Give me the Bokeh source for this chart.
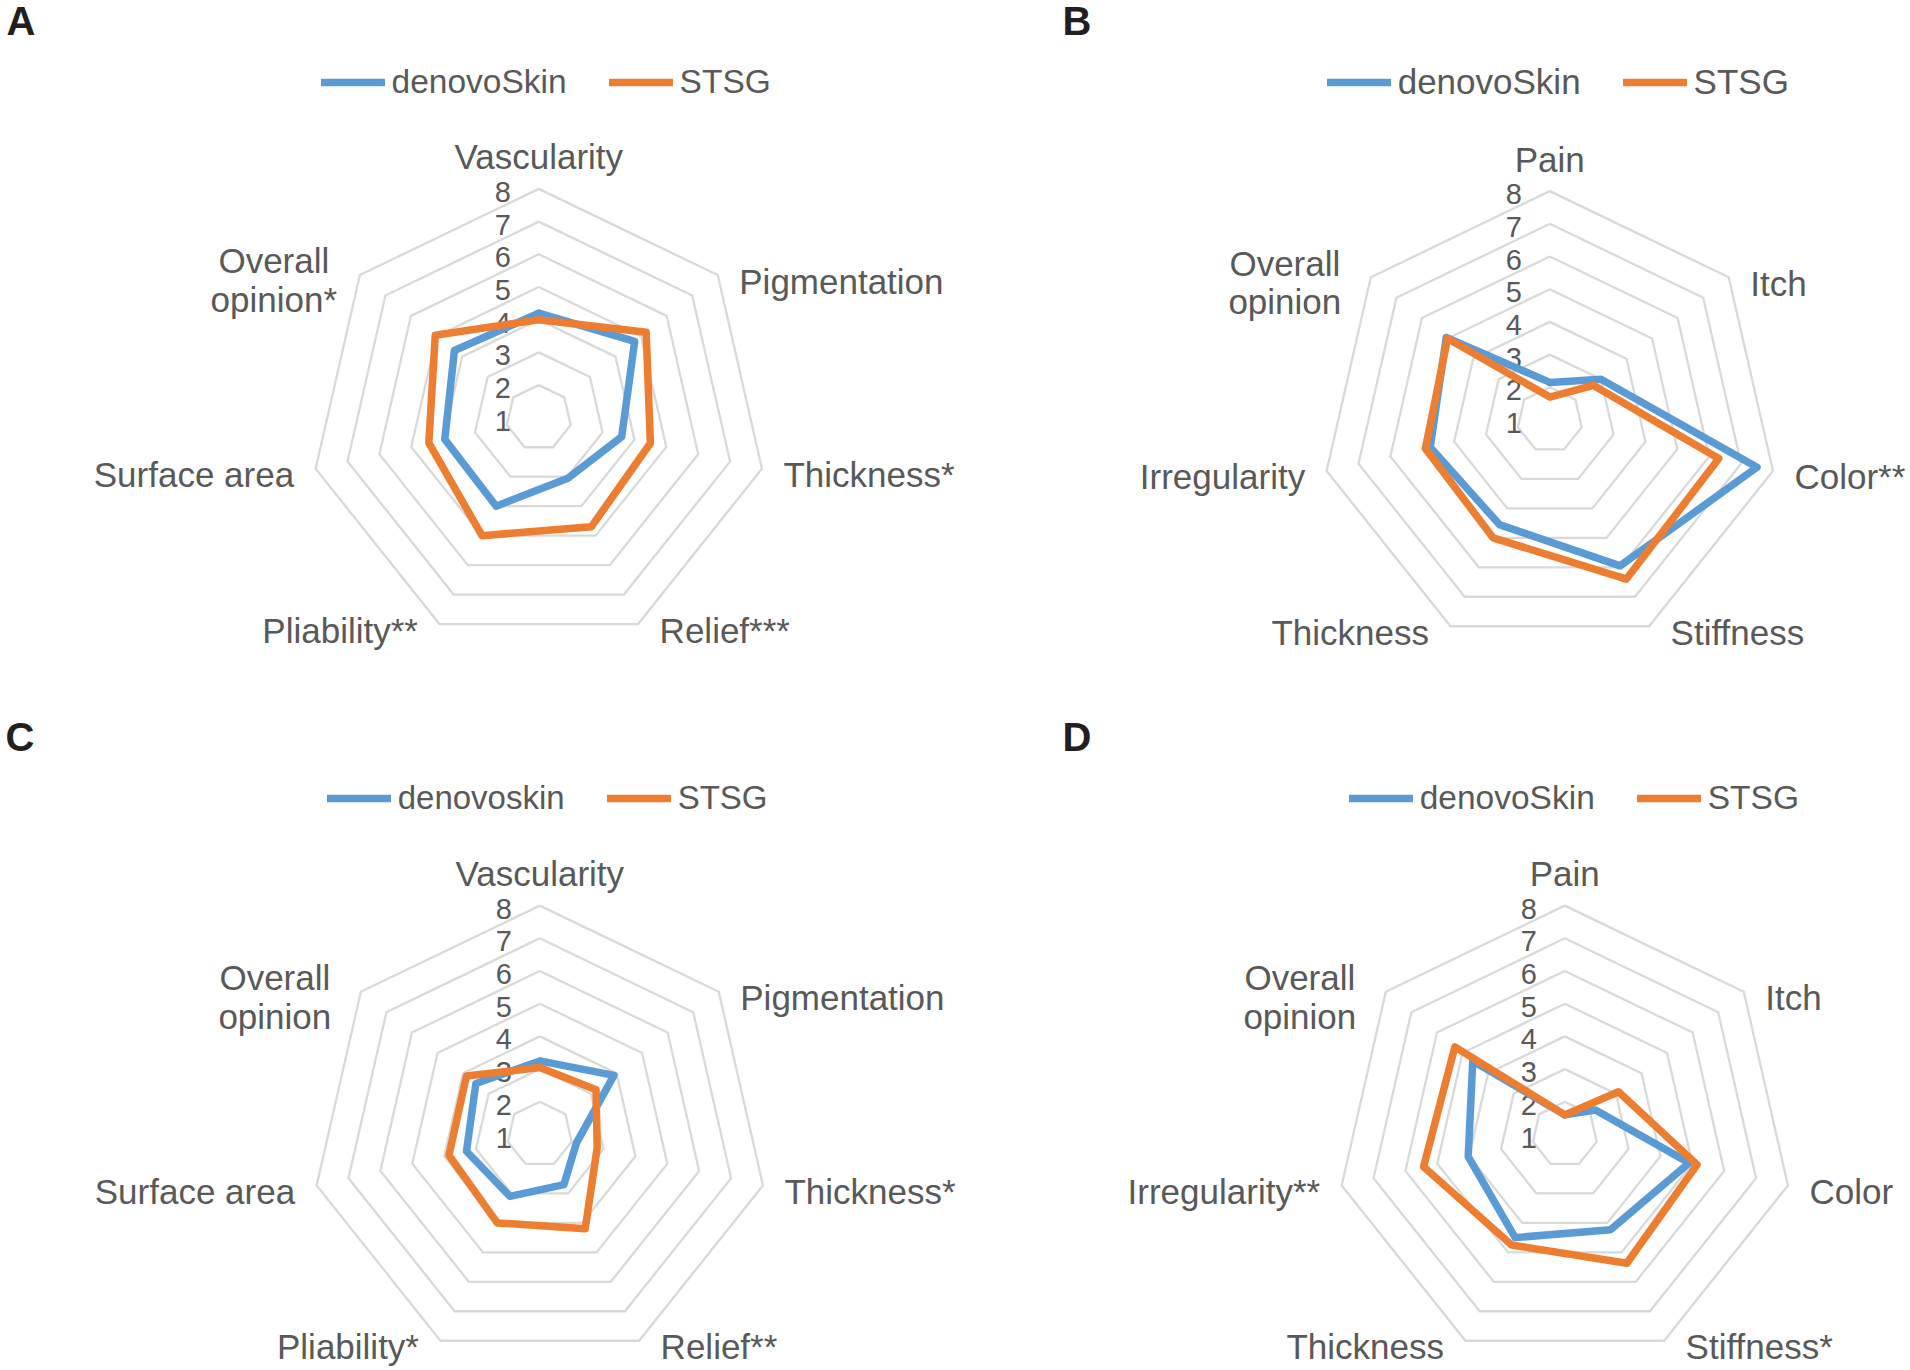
import math
from bokeh.plotting import figure
from bokeh.models import Range1d, Legend, LegendItem
from bokeh.embed import file_html
from bokeh.resources import INLINE
from bokeh.core.properties import value

# ---------------- data ----------------
AXIS_MIN, AXIS_MAX = 1, 8
TICKS = [1, 2, 3, 4, 5, 6, 7, 8]

cats_A = ["Vascularity", "Pigmentation", "Thickness*", "Relief***", "Pliability**", "Surface area", "Overall\nopinion*"]
denovo_A = [4.2, 4.75, 3.6, 3.05, 4.0, 3.95, 4.3]
stsg_A = [4.0, 5.2, 4.5, 4.7, 5.0, 4.45, 5.05]
names_A = ["denovoSkin", "STSG"]

cats_B = ["Pain", "Itch", "Color**", "Stiffness", "Thickness", "Irregularity", "Overall\nopinion"]
denovo_B = [2.15, 3.0, 7.5, 5.95, 4.55, 4.75, 5.05]
stsg_B = [1.7, 2.7, 6.3, 6.4, 5.0, 4.9, 5.0]
names_B = ["denovoSkin", "STSG"]

cats_C = ["Vascularity", "Pigmentation", "Thickness*", "Relief**", "Pliability*", "Surface area", "Overall\nopinion"]
denovo_C = [3.25, 3.9, 2.15, 2.7, 3.1, 3.3, 3.5]
stsg_C = [3.05, 3.2, 2.8, 4.2, 4.0, 3.85, 3.87]
names_C = ["denovoskin", "STSG"]

cats_D = ["Pain", "Itch", "Color", "Stiffness*", "Thickness", "Irregularity**", "Overall\nopinion"]
denovo_D = [1.6, 2.2, 4.9, 4.23, 4.5, 4.03, 4.6]
stsg_D = [1.6, 3.1, 5.15, 5.37, 4.75, 5.43, 5.3]
names_D = ["denovoSkin", "STSG"]

# ---------------- style ----------------
BLUE = "#5B9BD5"
ORANGE = "#ED7D31"
GRID = "#D9D9D9"
TXT = "#595959"
FONT = "Liberation Sans"
W, H = 1908, 1368
UNIT = 32.7  # px per score unit

p = figure(width=W, height=H, output_backend="svg", toolbar_location=None,
           x_range=Range1d(0, W), y_range=Range1d(H, 0),
           x_axis_location=None, y_axis_location=None, min_border=0,
           outline_line_color=None, background_fill_color="white",
           border_fill_color="white")
p.grid.visible = False


def radar(letter, letter_pos, center, cats, s1, s2, names, legend_pos, legend_font):
    cx, cy = center
    n = len(cats)
    ang = [2 * math.pi * i / n for i in range(n)]

    def poly(vals):
        xs = [cx + (v - AXIS_MIN) * UNIT * math.sin(a) for v, a in zip(vals, ang)]
        ys = [cy - (v - AXIS_MIN) * UNIT * math.cos(a) for v, a in zip(vals, ang)]
        return xs + [xs[0]], ys + [ys[0]]

    # concentric heptagon grid
    rx, ry = [], []
    for t in TICKS:
        if t == AXIS_MIN:
            continue
        xs, ys = poly([t] * n)
        rx.append(xs)
        ry.append(ys)
    p.multi_line(rx, ry, line_color=GRID, line_width=2.3, line_join="miter")

    # value-axis tick labels
    p.text(x=[cx] * len(TICKS), y=[cy - (t - AXIS_MIN) * UNIT for t in TICKS],
           text=[str(t) for t in TICKS], x_offset=-28, y_offset=3,
           text_align="right", text_baseline="middle",
           text_font=value(FONT), text_font_size="29px", text_color=TXT)

    # category labels
    R = (AXIS_MAX - AXIS_MIN) * UNIT
    for lab, a in zip(cats, ang):
        vx, vy = cx + R * math.sin(a), cy - R * math.cos(a)
        s = math.sin(a)
        kw = dict(text_font=value(FONT), text_font_size="35px", text_color=TXT,
                  text_baseline="middle")
        if "\n" in lab:
            lines = lab.split("\n")
            sign = 1 if s > 0 else -1
            for j, ln in enumerate(lines):
                p.text(x=[vx], y=[vy], text=[ln], x_offset=sign * 86,
                       y_offset=5 + (j - (len(lines) - 1) / 2) * 38.5,
                       text_align="center", **kw)
        elif abs(s) < 0.01:
            p.text(x=[vx], y=[vy], text=[lab], y_offset=-32, text_align="center", **kw)
        elif s > 0:
            p.text(x=[vx], y=[vy], text=[lab], x_offset=21.5, y_offset=6, text_align="left", **kw)
        else:
            p.text(x=[vx], y=[vy], text=[lab], x_offset=-21.5, y_offset=6, text_align="right", **kw)

    # series
    x1, y1 = poly(s1)
    r1 = p.line(x1, y1, line_color=BLUE, line_width=7.5, line_join="round", line_cap="round")
    x2, y2 = poly(s2)
    r2 = p.line(x2, y2, line_color=ORANGE, line_width=7.5, line_join="round", line_cap="round")

    # legend (top-centre of panel)
    lx, ly = legend_pos
    legend = Legend(items=[LegendItem(label=names[0], renderers=[r1]),
                           LegendItem(label=names[1], renderers=[r2])],
                    orientation="horizontal", location=(lx, H - (ly + 20)),
                    glyph_width=64, glyph_height=40, label_height=40, label_standoff=7,
                    spacing=42, padding=0, margin=0, border_line_color=None,
                    background_fill_alpha=0, label_text_font=FONT,
                    label_text_font_size=legend_font, label_text_color=TXT)
    p.add_layout(legend)

    # panel letter
    lpx, lpy = letter_pos
    p.text(x=[lpx], y=[lpy], text=[letter], text_align="left", text_baseline="middle",
           text_font=value(FONT), text_font_style="bold", text_font_size="40px",
           text_color="#231F20")


radar("A", (6, 20), (538.3, 417.3), cats_A, denovo_A, stsg_A, names_A, (320.5, 81.5), "33.5px")
radar("B", (1062, 20), (1549.3, 419.5), cats_B, denovo_B, stsg_B, names_B, (1326.7, 81.5), "35px")
radar("C", (5, 736.5), (539.3, 1134), cats_C, denovo_C, stsg_C, names_C, (326.7, 798), "33px")
radar("D", (1062, 736.5), (1564.3, 1134), cats_D, denovo_D, stsg_D, names_D, (1348.7, 798), "33.5px")

open("out.html", "w").write(file_html(p, INLINE))
